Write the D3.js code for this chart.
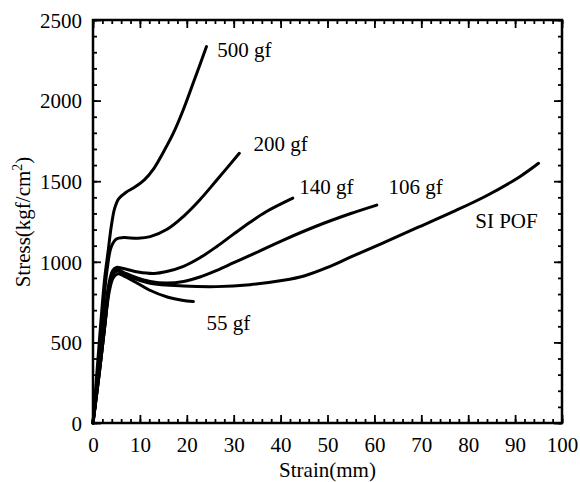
<!DOCTYPE html>
<html><head><meta charset="utf-8">
<script src="https://cdn.jsdelivr.net/npm/d3@7"></script>
<style>body{margin:0;background:#fff}svg{display:block}text{font-family:"Liberation Serif","Times New Roman",serif;fill:#000}</style>
</head><body><svg id="c" width="580" height="482"></svg>
<script>
const xTicks = [0,10,20,30,40,50,60,70,80,90,100];
const yTicks = [0,500,1000,1500,2000,2500];
const seriesNames = ["500 gf","200 gf","140 gf","106 gf","SI POF","55 gf"];
const s500 = [[0,0],[0.8,300],[1.6,600],[2.5,900],[3.2,1060],[3.9,1220],[4.6,1330],[5.5,1392],[7,1430],[9,1465],[11,1510],[13,1580],[15,1680],[17,1790],[19,1925],[21.5,2120],[24.2,2335]];
const s200 = [[0,0],[1,300],[2,650],[3,950],[3.9,1094],[5,1142],[6.5,1150],[9.6,1146],[12.2,1156],[15.7,1200],[19.3,1282],[22.8,1385],[26.4,1507],[31.2,1673]];
const s140 = [[0,0],[1.2,300],[2.3,600],[3.3,850],[4.2,945],[5,965],[6.2,960],[9.6,937],[13,928],[15.7,940],[19.3,972],[22.8,1025],[26.4,1095],[29.9,1170],[33.5,1245],[37,1312],[42.6,1395]];
const s106 = [[0,0],[1.3,300],[2.5,600],[3.5,850],[4.3,930],[5.2,950],[6.5,935],[9,905],[12.2,878],[15.7,868],[19.3,878],[22.8,906],[26.4,947],[29.9,993],[33.5,1040],[40.6,1135],[47.7,1222],[54.8,1298],[60.5,1352]];
const sSI = [[0,0],[1.3,300],[2.5,600],[3.5,850],[4.3,925],[5.2,943],[6.5,928],[9,895],[12.2,867],[19.3,850],[26.4,846],[33.5,858],[40.6,885],[45,912],[50,965],[55,1030],[61.9,1118],[69,1210],[76.8,1311],[83.9,1410],[91,1528],[95,1611]];
const s55 = [[0,0],[1.3,300],[2.5,600],[3.5,820],[4.3,900],[5.3,925],[6.5,913],[9,875],[12,825],[16,780],[19,761],[21.4,753]];
const labelPos = [[26.5,2270],[34.2,1690],[44,1420],[63,1420],[81.5,1210],[24.2,575]];

const svg = d3.select("#c");
const x = d3.scaleLinear().domain([0,100]).range([93,562]);
const y = d3.scaleLinear().domain([0,2500]).range([423,20]);
const FS = 21;

const g = svg.append("g");
g.append("g").attr("transform","translate(0,423)")
  .call(d3.axisBottom(x).tickValues(d3.range(0,101,2)).tickSize(-4).tickFormat(""));
g.append("g").attr("transform","translate(0,20)")
  .call(d3.axisTop(x).tickValues(d3.range(0,101,2)).tickSize(-4).tickFormat(""));
g.append("g").attr("transform","translate(93,0)")
  .call(d3.axisLeft(y).tickValues(d3.range(0,2501,100)).tickSize(-4).tickFormat(""));
g.append("g").attr("transform","translate(562,0)")
  .call(d3.axisRight(y).tickValues(d3.range(0,2501,100)).tickSize(-4).tickFormat(""));
const bx = g.append("g").attr("transform","translate(0,423)")
  .call(d3.axisBottom(x).tickValues(xTicks).tickSize(-8).tickPadding(14).tickFormat(d3.format("d")));
g.append("g").attr("transform","translate(0,20)")
  .call(d3.axisTop(x).tickValues(xTicks).tickSize(-8).tickFormat(""));
const ly = g.append("g").attr("transform","translate(93,0)")
  .call(d3.axisLeft(y).tickValues(yTicks).tickSize(-8).tickPadding(11).tickFormat(d3.format("d")));
g.append("g").attr("transform","translate(562,0)")
  .call(d3.axisRight(y).tickValues(yTicks).tickSize(-8).tickFormat(""));
g.selectAll(".domain").remove();
g.selectAll(".tick line").attr("stroke","#000").attr("stroke-width",1.8);
g.selectAll(".tick text").attr("font-size",FS).attr("font-family","Liberation Serif");
bx.selectAll(".tick text").attr("dy",null).attr("y",29);
ly.selectAll(".tick text").attr("dy","0.35em").attr("x",-11);

svg.append("rect").attr("x",x(0)).attr("y",y(2500)).attr("width",x(100)-x(0)).attr("height",y(0)-y(2500))
  .attr("fill","none").attr("stroke","#000").attr("stroke-width",2.5);

const line = d3.line().x(d=>x(d[0])).y(d=>y(d[1])).curve(d3.curveCatmullRom.alpha(0.5));
const all = [s500,s200,s140,s106,sSI,s55];
svg.append("g").selectAll("path").data(all).join("path")
  .attr("d",line).attr("fill","none").attr("stroke","#000").attr("stroke-width",3).attr("stroke-linecap","round").attr("stroke-linejoin","round");

svg.append("g").selectAll("text").data(seriesNames).join("text")
  .attr("x",(d,i)=>x(labelPos[i][0])).attr("y",(d,i)=>y(labelPos[i][1]))
  .attr("font-size",FS).text(d=>d);

svg.append("text").attr("x",(x(0)+x(100))/2).attr("y",477).attr("text-anchor","middle")
  .attr("font-size",FS).text("Strain(mm)");
const yt = svg.append("text").attr("transform","translate(30,222) rotate(-90)").attr("text-anchor","middle").attr("font-size",FS);
yt.append("tspan").text("Stress(kgf/cm");
yt.append("tspan").attr("font-size",14).attr("dy",-8).text("2");
yt.append("tspan").attr("dy",8).text(")");
</script></body></html>
